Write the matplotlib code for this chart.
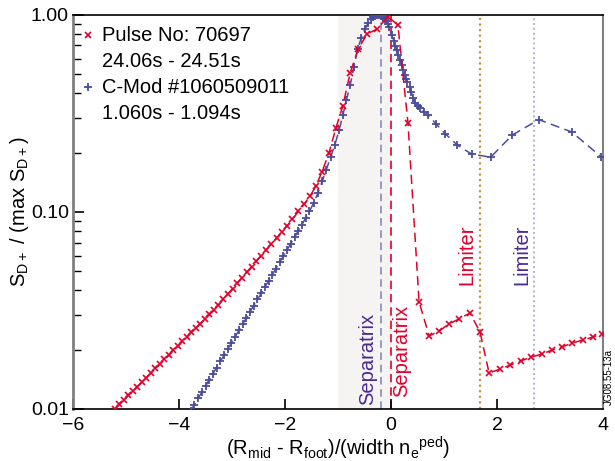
import matplotlib
matplotlib.use("Agg")
import matplotlib.pyplot as plt
import matplotlib.transforms as mtransforms
from matplotlib.ticker import LogLocator, FixedLocator, FuncFormatter, NullFormatter

# ── Data ─────────────────────────────────────────────────────────────────────
jet_x = [-5.21, -5.125, -5.04, -4.955, -4.87, -4.785, -4.70, -4.615, -4.53, -4.445,
         -4.36, -4.275, -4.19, -4.105, -4.02, -3.935, -3.85, -3.765, -3.68, -3.595,
         -3.51, -3.425, -3.34, -3.255, -3.17, -3.08, -2.99, -2.90, -2.81, -2.72,
         -2.63, -2.54, -2.45, -2.36, -2.26, -2.16, -2.06, -1.96, -1.86, -1.75,
         -1.64, -1.53, -1.42, -1.30, -1.17, -1.04, -0.91, -0.77, -0.62, -0.45,
         -0.26, -0.06, 0.13, 0.32, 0.53, 0.72, 0.91, 1.09, 1.28, 1.49,
         1.68, 1.85, 2.06, 2.25, 2.45, 2.64, 2.85, 3.04, 3.23, 3.42,
         3.62, 3.81, 3.98]
jet_y = [0.01000, 0.01054, 0.01112, 0.01172, 0.01233, 0.01300, 0.01371, 0.01445, 0.01524, 0.01607,
         0.01694, 0.01786, 0.01879, 0.01982, 0.02089, 0.02203, 0.02323, 0.02449, 0.02582, 0.02716,
         0.02864, 0.03020, 0.03184, 0.03357, 0.03597, 0.03837, 0.04083, 0.04355, 0.04645, 0.04955,
         0.05284, 0.05623, 0.05998, 0.06397, 0.06871, 0.07379, 0.07925, 0.08531, 0.09162, 0.1007,
         0.1094, 0.1202, 0.1349, 0.1603, 0.1995, 0.2667, 0.3451, 0.5082, 0.6714, 0.8017,
         0.8492, 0.9817, 0.8892, 0.2831, 0.03491, 0.02350, 0.02489, 0.02698, 0.02864, 0.03069,
         0.02460, 0.01524, 0.01596, 0.01671, 0.01754, 0.01832, 0.01901, 0.01991, 0.02065, 0.02163,
         0.02239, 0.02317, 0.02415]

cmod_x = [-3.78, -3.71, -3.64, -3.57, -3.50, -3.43, -3.36, -3.29, -3.22, -3.15,
          -3.08, -3.01, -2.94, -2.87, -2.80, -2.73, -2.66, -2.59, -2.52, -2.45,
          -2.38, -2.31, -2.24, -2.17, -2.10, -2.03, -1.96, -1.89, -1.82, -1.75,
          -1.68, -1.61, -1.54, -1.46, -1.38, -1.30, -1.22, -1.14, -1.06, -0.98,
          -0.91, -0.84, -0.77, -0.70, -0.63, -0.56, -0.49, -0.43, -0.38, -0.34,
          -0.30, -0.27, -0.24, -0.21, -0.18, -0.15, -0.12, -0.09, -0.06, -0.03,
          0.01, 0.05, 0.08, 0.11, 0.14, 0.17, 0.20, 0.23, 0.26, 0.29,
          0.31, 0.35, 0.38, 0.42, 0.45, 0.50, 0.55, 0.62, 0.70, 0.85,
          1.02, 1.25, 1.52, 1.88, 2.29, 2.79, 3.41, 3.96]
cmod_y = [0.00979, 0.01052, 0.01132, 0.01216, 0.01306, 0.01406, 0.01510, 0.01622, 0.01746, 0.01875,
          0.02014, 0.02168, 0.02328, 0.02506, 0.02692, 0.02891, 0.03112, 0.03342, 0.03597, 0.03864,
          0.04159, 0.04467, 0.04808, 0.05164, 0.05559, 0.05970, 0.06427, 0.06918, 0.07447, 0.08017,
          0.08630, 0.09311, 0.1007, 0.1109, 0.1245, 0.1429, 0.1641, 0.1897, 0.2188, 0.2600,
          0.3090, 0.3715, 0.4416, 0.5433, 0.6683, 0.7674, 0.8472, 0.9120, 0.9506, 0.9772,
          0.9908, 0.9977, 1.000, 0.9954, 0.9863, 0.9727, 0.9550, 0.9333, 0.9016, 0.8670,
          0.7943, 0.7413, 0.6998, 0.6607, 0.6237, 0.5888, 0.5559, 0.5248, 0.4977, 0.4732,
          0.4581, 0.4315, 0.4074, 0.3802, 0.3589, 0.3451, 0.3357, 0.3236, 0.3105, 0.2799,
          0.2500, 0.2188, 0.1968, 0.1897, 0.2460, 0.2944, 0.2547, 0.1910]

sep_cmod, sep_jet = -0.19, 0.0
lim_jet, lim_cmod = 1.68, 2.70
band = (-1.0, 0.0)

legend_lines = ["Pulse No: 70697", "24.06s - 24.51s",
                "C-Mod #1060509011", "1.060s - 1.094s"]

# ── Style ────────────────────────────────────────────────────────────────────
RED = "#e2002b"
BLUE = "#4c4c9e"
PURPLE = "#4a2a92"
plt.rcParams["font.family"] = ["Liberation Sans", "DejaVu Sans"]
plt.rcParams["mathtext.default"] = "regular"
FS = 14.5

fig = plt.figure(figsize=(6.15, 4.61), dpi=100)
ax = fig.add_axes([0.1187, 0.1128, 0.8618, 0.8547])

ax.axvspan(*band, color="#f5f4f2", lw=0, zorder=0)
ax.axvline(sep_cmod, color="#8080b8", lw=1.1, ls=(0, (5, 3)), zorder=1)
ax.axvline(sep_jet, color=RED, lw=1.2, ls=(0, (5, 3)), zorder=1)
ax.axvline(lim_jet, color="#c09848", lw=1.6, ls=(0, (1, 1.5)), zorder=1)
ax.axvline(lim_cmod, color="#b0b0e6", lw=1.4, ls=(0, (1, 1.5)), zorder=1)

ax.plot(cmod_x, cmod_y, color=BLUE, lw=1.1, ls=(0, (6, 3.5)),
        marker="+", ms=6, mew=1.3, zorder=3)
ax.plot(jet_x, jet_y, color=RED, lw=1.1, ls=(0, (6, 3.5)),
        marker="x", ms=5, mew=1.2, zorder=4)

# rotated labels
trans = mtransforms.blended_transform_factory(ax.transData, ax.transAxes)
ax.text(-0.45, 0.01, "Separatrix", color=PURPLE, rotation=90, ha="center", va="bottom",
        fontsize=FS, transform=trans)
ax.text(0.21, 0.03, "Separatrix", color=RED, rotation=90, ha="center", va="bottom",
        fontsize=FS, transform=trans)
ax.text(1.43, 0.467, "Limiter", color=RED, rotation=90, ha="center", va="top",
        fontsize=FS, transform=trans)
ax.text(2.47, 0.467, "Limiter", color=PURPLE, rotation=90, ha="center", va="top",
        fontsize=FS, transform=trans)

# legend drawn by hand
ax.plot([0.028], [0.949], marker="x", color=RED, ms=5, mew=1.2, transform=ax.transAxes)
ax.plot([0.028], [0.817], marker="+", color=BLUE, ms=6, mew=1.3, transform=ax.transAxes)
for t, yy in zip(legend_lines, [0.949, 0.883, 0.817, 0.751]):
    ax.text(0.055, yy, t, fontsize=FS, ha="left", va="center", transform=ax.transAxes)

# ── Axes ─────────────────────────────────────────────────────────────────────
ax.set_yscale("log")
ax.set_xlim(-6, 4)
ax.set_ylim(0.01, 1.0)
ax.xaxis.set_major_locator(FixedLocator([-6, -4, -2, 0, 2, 4]))
ax.yaxis.set_major_locator(FixedLocator([0.01, 0.1, 1.0]))
ax.yaxis.set_major_formatter(FuncFormatter(lambda v, p: f"{v:.2f}"))
ax.yaxis.set_minor_locator(LogLocator(base=10, subs=range(2, 10)))
ax.yaxis.set_minor_formatter(NullFormatter())
ax.tick_params(axis="both", which="major", direction="in", labelsize=FS - 0.5)
ax.tick_params(axis="x", which="major", length=7, width=1.2, pad=6)
ax.tick_params(axis="y", which="major", length=8, width=1.2, pad=3)
ax.tick_params(axis="y", which="minor", direction="in", length=5.5, width=1.0)
ax.tick_params(top=False, right=False, which="both")

for side in ["left", "right"]:
    ax.spines[side].set_color("#808080")
ax.spines["left"].set_linewidth(2.0)
ax.spines["right"].set_linewidth(1.5)
ax.spines["top"].set_linewidth(1.2)
ax.spines["bottom"].set_linewidth(1.2)

ax.set_xlabel("(R$_{mid}$ - R$_{foot}$)/(width n$_{e}$$^{ped}$)", fontsize=FS, labelpad=0)
ax.set_ylabel("S$_{D+}$ / (max S$_{D+}$)", fontsize=FS)
ax.yaxis.set_label_coords(-0.08, 0.5)

fig.text(0.990, 0.121, "JG08.55-13a", rotation=90, ha="center", va="bottom", fontsize=7)

fig.savefig("out.png", dpi=100)
